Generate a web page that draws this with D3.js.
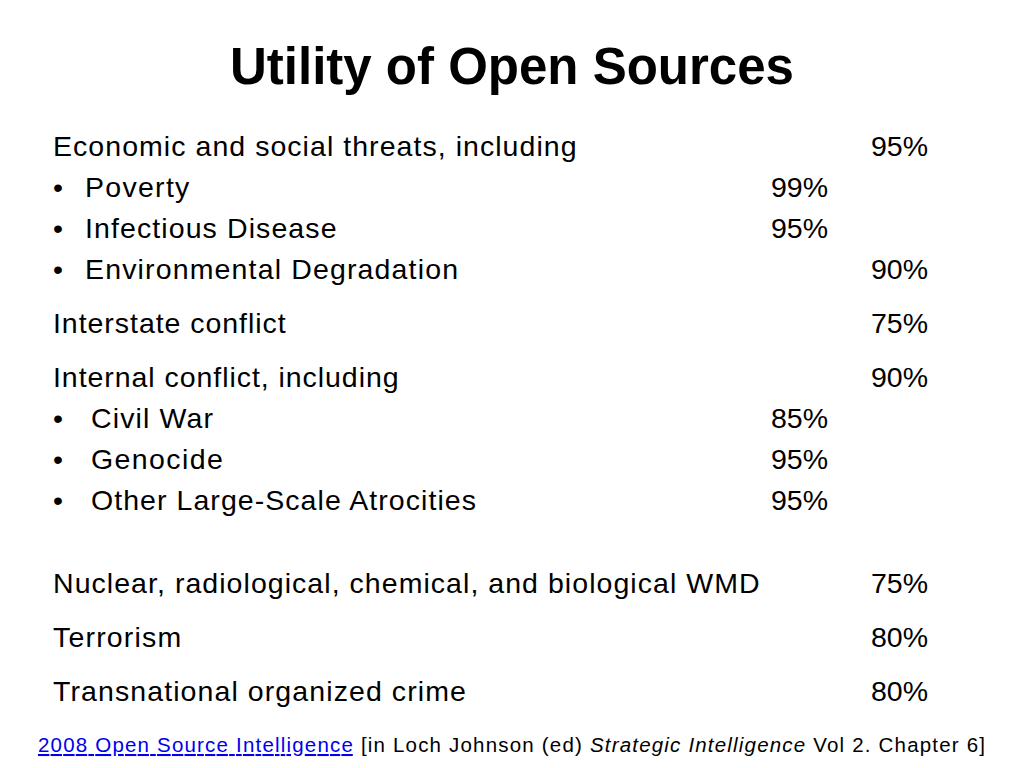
<!DOCTYPE html><html><head><meta charset="utf-8"><script src="https://cdn.jsdelivr.net/npm/d3@7"></script>
<style>body{margin:0;background:#fff}</style></head><body><script>
const labels=["Economic and social threats, including","Poverty","Infectious Disease","Environmental Degradation","Interstate conflict","Internal conflict, including","Civil War","Genocide","Other Large-Scale Atrocities","Nuclear, radiological, chemical, and biological WMD","Terrorism","Transnational organized crime"];
const values=[95,99,95,90,75,90,85,95,95,75,80,80];
const bullet=[false,true,true,false,false,false,true,true,true,false,false,false];
const column=[0,1,1,0,0,0,1,1,1,0,0,0];
const group=[0,0,0,0,1,2,2,2,2,3,4,5];
const extraSpace=[0,0,0,0,0,0,0,0,0,1,0,0];
const indent=[0,1,1,1,0,0,2,2,2,0,0,0];
const W=1024,H=768;
const svg=d3.select("body").append("svg").attr("width",W).attr("height",H);
const F="'Liberation Sans',Arial,sans-serif";
svg.append("text").attr("x",512).attr("y",84).attr("text-anchor","middle").attr("font-family",F).attr("font-weight","bold").attr("font-size",51).text("Utility of Open Sources");
let pos=[],acc=0;
labels.forEach((l,i)=>{if(i>0){acc+=41;if(group[i]!==group[i-1])acc+=13;if(extraSpace[i])acc+=29;}pos.push(acc);});
const y=d3.scaleLinear().domain([0,1]).range([156,157]);
const xr=d3.scaleOrdinal().domain([0,1]).range([928,828]);
const xi=d3.scaleOrdinal().domain([0,1,2]).range([53,85,91]);
const g=svg.append("g").attr("font-family",F).attr("font-size",28.5).attr("fill","#000");
labels.forEach((l,i)=>{
  const yy=y(pos[i]);
  if(bullet[i]||indent[i]===1) g.append("text").attr("x",53).attr("y",yy).text("•");
  const t=g.append("text").attr("x",xi(indent[i])).attr("y",yy).text(l);
  t.attr("textLength",t.node().getComputedTextLength()*1.08).attr("lengthAdjust","spacing");
  g.append("text").attr("x",xr(column[i])).attr("y",yy).attr("text-anchor","end").text(values[i]+"%");
});
const ft=svg.append("text").attr("x",38).attr("y",752).attr("font-family",F).attr("font-size",20.5);
ft.append("tspan").attr("fill","#0000ee").attr("text-decoration","underline").text("2008 Open Source Intelligence");
ft.append("tspan").text(" [in Loch Johnson (ed) ");
ft.append("tspan").attr("font-style","italic").text("Strategic Intelligence");
ft.append("tspan").text(" Vol 2. Chapter 6]");
ft.attr("textLength",947).attr("lengthAdjust","spacing");
</script></body></html>
